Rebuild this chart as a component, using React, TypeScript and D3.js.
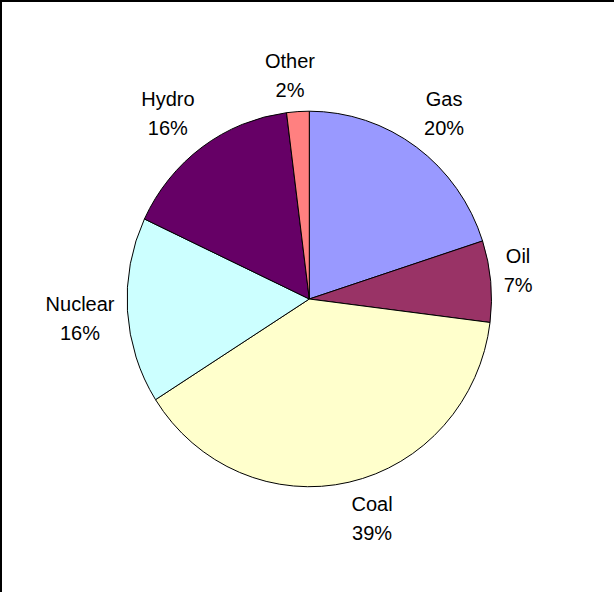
import React, { useMemo } from "react";
import * as d3 from "d3";

// Electricity generation by fuel, share of total (%)
const fuels = ["Gas", "Oil", "Coal", "Nuclear", "Hydro", "Other"];
const shares = [20, 7, 39, 16, 16, 2];
const fuelColors = ["#9999FF", "#993366", "#FFFFCC", "#CCFFFF", "#660066", "#FF8080"];

const W = 614;
const H = 592;
const FONT = "'Liberation Sans', Arial, Helvetica, sans-serif";
const FONT_SIZE = 20;
const LINE_GAP = 29;
const CAP = FONT_SIZE * 0.716;

function measure(text: string): number {
  const canvas = document.createElement("canvas");
  const ctx = canvas.getContext("2d");
  if (!ctx) return text.length * FONT_SIZE * 0.55;
  ctx.font = `${FONT_SIZE}px ${FONT}`;
  return ctx.measureText(text).width;
}

export default function App() {
  const cx = 309.3;
  const cy = 299;
  const rx = 182.2;
  const ry = 187.8;
  const gap = 13;
  const halfH = 23;

  const slices = useMemo(() => {
    const rows = fuels.map((name, i) => ({ name, value: shares[i], color: fuelColors[i] }));
    return d3
      .pie<{ name: string; value: number; color: string }>()
      .sort(null)
      .value((d) => d.value)
      .startAngle(0)
      .endAngle(2 * Math.PI)(rows);
  }, []);

  const arc = d3
    .arc<d3.PieArcDatum<{ name: string; value: number; color: string }>>()
    .innerRadius(0)
    .outerRadius(1);

  const clamp = (v: number) => Math.max(-1, Math.min(1, v));

  return (
    <svg
      width={W}
      height={H}
      viewBox={`0 0 ${W} ${H}`}
      style={{ position: "absolute", left: 0, top: 0, background: "#fff" }}
    >
      <rect x={0} y={0} width={W} height={H} fill="#fff" />
      <g transform={`translate(${cx},${cy}) scale(${rx},${ry})`}>
        {slices.map((s) => (
          <path
            key={s.data.name}
            d={arc(s) || ""}
            fill={s.data.color}
            stroke="#000"
            strokeWidth={1}
            vectorEffect="non-scaling-stroke"
          />
        ))}
      </g>
      {slices.map((s) => {
        const mid = (s.startAngle + s.endAngle) / 2;
        const sn = Math.sin(mid);
        const cs = Math.cos(mid);
        const pct = `${s.data.value}%`;
        const halfW = Math.max(measure(s.data.name), measure(pct)) / 2;
        const px = cx + (rx + gap) * sn;
        const py = cy - (ry + gap) * cs;
        const lx = px + halfW * clamp(sn * 4.5);
        const ly = py - halfH * clamp(cs * 4.5);
        const base1 = ly - (CAP + LINE_GAP) / 2 + CAP;
        return (
          <g key={`lbl-${s.data.name}`} fontFamily={FONT} fontSize={FONT_SIZE} fill="#000" textAnchor="middle">
            <text x={lx} y={base1}>{s.data.name}</text>
            <text x={lx} y={base1 + LINE_GAP}>{pct}</text>
          </g>
        );
      })}
      <rect x={0} y={0} width={W} height={2} fill="#000" />
      <rect x={0} y={0} width={2} height={H} fill="#000" />
    </svg>
  );
}
